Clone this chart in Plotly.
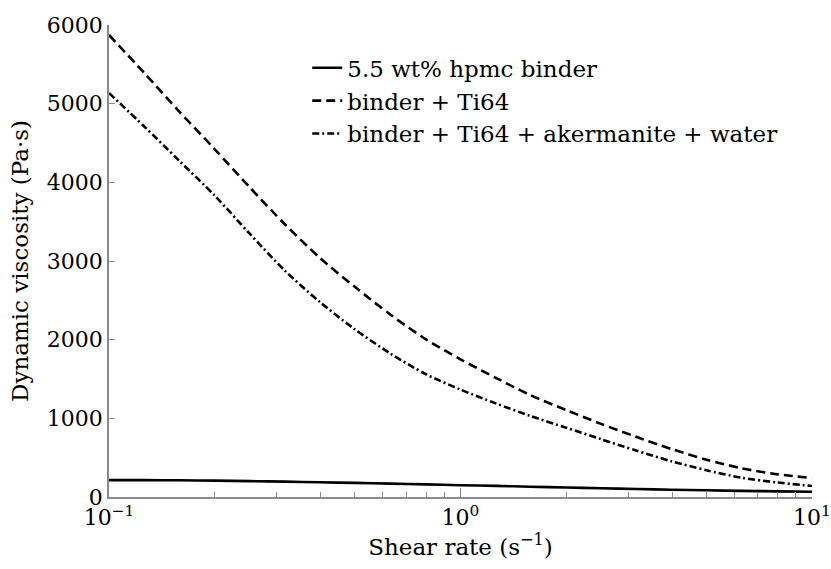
import plotly.graph_objects as go

# Shear rate sweep (1/s), log-spaced, ten points per decade
shear_rate = [0.1, 0.126, 0.158, 0.2, 0.251, 0.316, 0.398, 0.501, 0.631, 0.794,
              1.0, 1.26, 1.58, 2.0, 2.51, 3.16, 3.98, 5.01, 6.31, 7.94, 10.0]

# Dynamic viscosity (Pa·s)
visc_binder = [215, 214, 212, 208, 202, 195, 187, 179, 170, 160,
               150, 141, 131, 121, 111, 102, 93, 85, 78, 72, 67]
visc_ti64 = [5873, 5390, 4905, 4420, 3940, 3470, 3040, 2670, 2320, 2010,
             1750, 1515, 1295, 1105, 930, 765, 610, 475, 365, 290, 241]
visc_full = [5135, 4710, 4280, 3830, 3350, 2880, 2480, 2130, 1825, 1565,
             1365, 1190, 1030, 880, 735, 590, 455, 340, 245, 185, 140]

series_names = ["5.5 wt% hpmc binder", "binder + Ti64",
                "binder + Ti64 + akermanite + water"]

x_tickvals = [0.1, 1, 10]
x_ticktext = ["10<sup>\u22121</sup>", "10<sup>0</sup>", "10<sup>1</sup>"]
y_tickvals = [0, 1000, 2000, 3000, 4000, 5000, 6000]

FONT = "DejaVu Serif"
AXIS_GRAY = "#8a8a8a"

fig = go.Figure()
styles = ["solid", "9px,5px", "7px,3px,2px,3px"]
for name, vals, dash in zip(series_names, [visc_binder, visc_ti64, visc_full], styles):
    fig.add_trace(go.Scatter(
        x=shear_rate, y=vals, mode="lines", name=name,
        line=dict(color="black", width=2.6, dash=dash, shape="spline", smoothing=0.8),
    ))

fig.update_layout(
    width=831, height=569,
    margin=dict(l=109, r=19, t=25, b=72),
    paper_bgcolor="white", plot_bgcolor="white",
    font=dict(family=FONT, size=22, color="black"),
    showlegend=True,
    legend=dict(
        x=0.282, y=0.955, xanchor="left", yanchor="top",
        bgcolor="rgba(0,0,0,0)", borderwidth=0,
        font=dict(family=FONT, size=23, color="black"),
        tracegroupgap=0, itemwidth=30,
    ),
)

fig.update_xaxes(
    type="log", range=[-1, 1], automargin=False,
    tickvals=x_tickvals, ticktext=x_ticktext,
    ticks="inside", ticklen=9, tickcolor=AXIS_GRAY, tickwidth=1,
    minor=dict(ticks="inside", ticklen=5, tickcolor=AXIS_GRAY, dtick="D1", showgrid=False),
    showline=True, linecolor=AXIS_GRAY, linewidth=1.5,
    showgrid=False, zeroline=False,
    tickfont=dict(family=FONT, size=22),
    title=dict(text="Shear rate (s<sup>\u22121</sup>)", font=dict(family=FONT, size=23), standoff=8),
)
fig.update_yaxes(
    range=[0, 6000], automargin=False,
    tickvals=y_tickvals,
    ticks="inside", ticklen=6, tickcolor=AXIS_GRAY, tickwidth=1,
    showline=True, linecolor=AXIS_GRAY, linewidth=1.5,
    showgrid=False, zeroline=False,
    tickfont=dict(family=FONT, size=22),
    title=dict(text="Dynamic viscosity (Pa\u00b7s)", font=dict(family=FONT, size=23), standoff=12),
)

fig.write_html("out.html")
